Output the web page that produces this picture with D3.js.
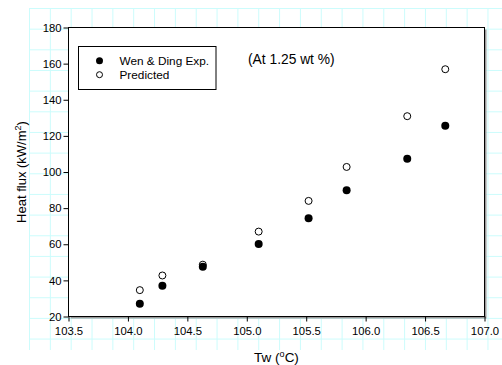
<!DOCTYPE html>
<html>
<head>
<meta charset="utf-8">
<script src="https://cdn.jsdelivr.net/npm/d3@7"></script>
<style>
  body { margin: 0; background: #fff; }
  svg { display: block; font-family: "Liberation Sans", Arial, sans-serif; }
</style>
</head>
<body>
<svg id="chart" width="502" height="365"></svg>
<script>
/* Data */
var tw = [104.10, 104.29, 104.63, 105.10, 105.52, 105.84, 106.35, 106.67];
var wenDingExp = [27.0, 37.0, 47.5, 60.2, 74.4, 89.9, 107.3, 125.6];
var predicted = [34.6, 42.7, 48.7, 67.0, 84.0, 102.8, 130.9, 156.9];
var xTicks = [103.5, 104.0, 104.5, 105.0, 105.5, 106.0, 106.5, 107.0];
var yTicks = [20, 40, 60, 80, 100, 120, 140, 160, 180];

var svg = d3.select("svg#chart");

/* plot frame */
var frame = { left: 68.5, top: 27.5, right: 484.5, bottom: 316.5 };

var x = d3.scaleLinear().domain([103.5, 107.0]).range([frame.left, frame.right]);
var y = d3.scaleLinear().domain([20, 180]).range([frame.bottom, frame.top]);

/* graph paper background */
var paper = svg.append("g").attr("stroke", "#ccfcfc").attr("stroke-width", 1);
paper.selectAll(".vg")
  .data(d3.range(23))
  .enter().append("line")
  .attr("x1", k => 29.5 + 20.84 * k).attr("x2", k => 29.5 + 20.84 * k)
  .attr("y1", 8.5).attr("y2", 350);
paper.selectAll(".hg")
  .data(d3.range(17))
  .enter().append("line")
  .attr("x1", 29).attr("x2", 502)
  .attr("y1", k => 8.5 + 20.66 * k).attr("y2", k => 8.5 + 20.66 * k);

/* shadow + plot area */
svg.append("rect")
  .attr("x", frame.left + 2).attr("y", frame.top + 2)
  .attr("width", frame.right - frame.left).attr("height", frame.bottom - frame.top)
  .attr("fill", "#9a9a9a");
svg.append("rect")
  .attr("x", frame.left).attr("y", frame.top)
  .attr("width", frame.right - frame.left).attr("height", frame.bottom - frame.top)
  .attr("fill", "#fff").attr("stroke", "#000").attr("stroke-width", 1);

/* axes */
var xAxis = svg.append("g")
  .attr("transform", `translate(0,${frame.bottom})`)
  .call(d3.axisBottom(x).tickValues(xTicks).tickFormat(d3.format(".1f")).tickSize(5).tickSizeOuter(0));
var yAxis = svg.append("g")
  .attr("transform", `translate(${frame.left},0)`)
  .call(d3.axisLeft(y).tickValues(yTicks).tickSize(5).tickSizeOuter(0));

[xAxis, yAxis].forEach(function(a) {
  a.select(".domain").remove();
  a.selectAll("line").attr("stroke", "#000");
  a.selectAll("text")
    .attr("fill", "#000")
    .style("font-size", "11.3px")
    .style("font-family", "Liberation Sans, Arial, sans-serif");
});
xAxis.selectAll("text").attr("dy", "0.71em").attr("y", 10);
yAxis.selectAll("text").attr("x", -7);

/* axis titles */
var xt = svg.append("text")
  .attr("x", 276.5).attr("y", 362)
  .attr("text-anchor", "middle")
  .style("font-size", "13.5px");
xt.append("tspan").text("Tw (");
xt.append("tspan").text("o").attr("dy", -5.5).style("font-size", "9px");
xt.append("tspan").text("C)").attr("dy", 5.5);

var yt = svg.append("text")
  .attr("transform", `translate(26,172) rotate(-90)`)
  .attr("text-anchor", "middle")
  .style("font-size", "13px");
yt.append("tspan").text("Heat flux (kW/m");
yt.append("tspan").text("2").attr("dy", -5.5).style("font-size", "9px");
yt.append("tspan").text(")").attr("dy", 5.5);

/* points */
var pts = tw.map((t, i) => ({ t: t, exp: wenDingExp[i], pred: predicted[i] }));

svg.append("g").selectAll("circle")
  .data(pts).enter().append("circle")
  .attr("cx", d => x(d.t)).attr("cy", d => y(d.pred))
  .attr("r", 3.5).attr("fill", "#fff").attr("stroke", "#000").attr("stroke-width", 1);

svg.append("g").selectAll("circle")
  .data(pts).enter().append("circle")
  .attr("cx", d => x(d.t)).attr("cy", d => y(d.exp))
  .attr("r", 4).attr("fill", "#000");

/* legend */
var lg = svg.append("g");
lg.append("rect")
  .attr("x", 78.5).attr("y", 46.5).attr("width", 137.5).attr("height", 43)
  .attr("fill", "#fff").attr("stroke", "#000").attr("stroke-width", 1);
lg.append("circle").attr("cx", 99.5).attr("cy", 60.7).attr("r", 3.5).attr("fill", "#000");
lg.append("circle").attr("cx", 99.5).attr("cy", 74.7).attr("r", 3)
  .attr("fill", "#fff").attr("stroke", "#000");
lg.append("text").attr("x", 119.5).attr("y", 65).style("font-size", "11.8px").text("Wen & Ding Exp.");
lg.append("text").attr("x", 119.5).attr("y", 79).style("font-size", "11.8px").text("Predicted");

svg.append("text")
  .attr("x", 248).attr("y", 64)
  .style("font-size", "13.8px")
  .text("(At 1.25 wt %)");
</script>
</body>
</html>
